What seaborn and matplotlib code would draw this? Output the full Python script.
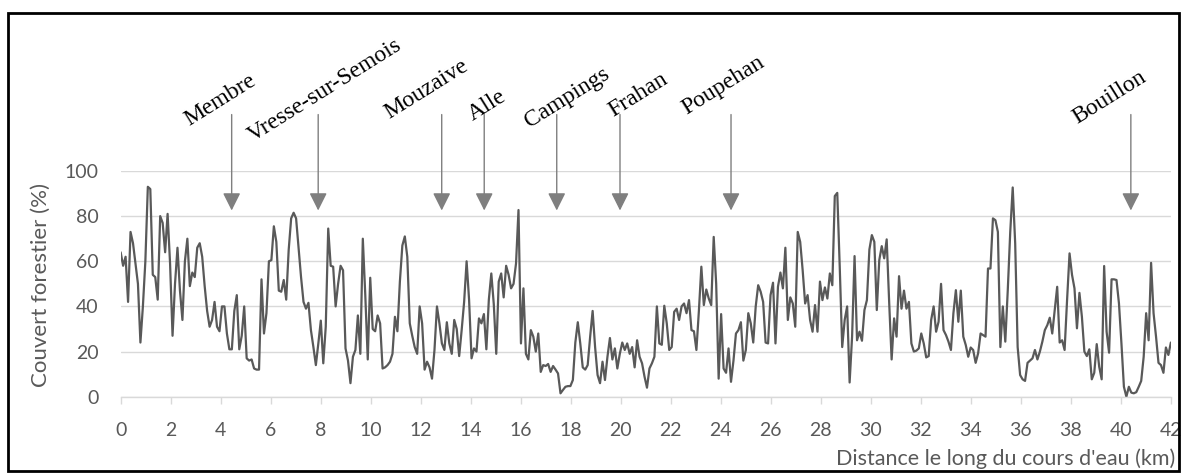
import numpy as np
import pandas as pd
import seaborn as sns
import matplotlib.pyplot as plt
from matplotlib.patches import Rectangle

# forest cover (%) read along the river, roughly every 0.1 km from 0 to 42 km
cover_0_5 = [64, 58, 62, 42, 73, 68, 59, 50, 24, 40, 60, 93, 92, 54, 53, 43, 80, 77, 64, 81,
             59, 27, 50, 66, 47, 34, 60, 70, 49, 55, 53, 66, 68, 62, 49, 38, 31, 34, 42, 31,
             29, 40, 40, 28, 21, 21, 38]
cover_5_10 = [45, 21, 27, 40, 17, 16, 16.5, 12.5, 12, 12, 52, 28, 37, 60, 60.5, 75.5, 68.6, 47, 46.5, 51.7,
              43, 65, 79, 81.5, 79, 66, 53, 42, 39, 41.6, 29.5, 22, 14, 23.6, 33.7, 14.8, 31, 74.5, 58, 57.6,
              40, 50, 58, 56, 21.4, 16, 6, 17.7, 20.7, 36, 19, 70, 45, 16.5]
cover_10_15 = [52.7, 30, 29, 36, 32.5, 12.5, 13, 14, 15.5, 19, 35.4, 29, 51, 67, 71, 62, 32.5, 27, 22, 19,
               40, 32.5, 12, 15.5, 13, 8, 20.7, 40, 32.5, 23.6, 20.7, 33, 23.6, 19, 34, 30, 18, 29.5, 42, 60,
               43, 17, 21.4, 20, 34.7, 32.5, 36.6, 21, 43, 54.6, 41, 19, 51]
cover_15_20 = [54.6, 44, 58, 54, 48, 50, 59, 82.7, 23.6, 48, 19, 16.5, 29.5, 26.6, 20, 28, 11, 14, 13.6, 14.5,
               11, 13.6, 12, 10.3, 1.5, 3, 4.4, 4.7, 4.7, 7.4, 24, 33, 23.6, 13, 12, 14, 26.6, 38, 22, 9.6,
               6, 15.5, 7.4, 17.7, 26, 16.5, 21.4, 12.5, 19, 24, 20.7, 23.6, 19, 22, 13]
cover_20_25 = [25, 17.7, 14.8, 8.9, 4, 12.5, 14.8, 17.7, 40, 23.6, 23, 40.3, 32.5, 20.7, 22, 37.6, 39, 34, 40, 41.3,
               37, 42.8, 29.5, 29, 20.7, 38, 57.6, 40.6, 47.5, 43.5, 40.6, 70.8, 50, 8, 36.6, 12.5, 10.6, 21.4, 6.6, 16,
               28, 29.5, 33, 16, 20.7, 37, 32.5, 24, 40, 49.4, 46.5, 42]
cover_25_30 = [24, 23.6, 45, 50.5, 23.6, 48.7, 55, 48, 66, 34, 44, 41.3, 31, 73, 68.6, 56, 41.3, 45, 34, 28.8,
               40.6, 28.8, 51, 42.8, 48.4, 43.5, 54.6, 49.4, 88.9, 90.3, 57.6, 22, 34, 40, 6.3, 26.6, 62.3, 25, 28.8, 24.8,
               38.4, 42.8, 65.2, 71.6, 68.6, 38.4, 60.5, 66.7, 61.3, 69.7, 42, 16.5]
cover_30_35 = [34.7, 26.6, 53.4, 39, 47, 39, 42, 23.6, 20, 20.4, 21.4, 28, 23.6, 17.4, 18, 34, 40, 28.8, 33.2, 50,
               29.5, 27.3, 24.4, 20.7, 37, 47.2, 33.2, 47, 26.6, 22.9, 17.7, 21.8, 20.7, 15, 19.2, 28, 27.3, 26.6, 56.8, 56.8,
               79, 78.2, 73, 22, 40, 24.4, 47.2, 73, 92.7, 68, 22, 9.6]
cover_35_42 = [7.7, 7, 15, 16, 17, 20.7, 16.5, 20, 24.4, 29.5, 31.7, 35, 28, 38.4, 48.7, 24, 25, 20.7, 42.8, 63.5,
               54, 48, 30.3, 46, 35.4, 20, 18, 21, 7.7, 10.6, 23.3, 13.3, 7.7, 57.9, 28.8, 19.5, 52, 52, 51.7, 41.3,
               23.6, 4.4, 0, 4.4, 1.8, 1.5, 2, 4.4, 7, 17.7, 37, 25, 59.3, 37, 26.6, 15, 14, 10.6, 21.8, 18.5, 24]

cover = (cover_0_5 + cover_5_10 + cover_10_15 + cover_15_20 + cover_20_25
         + cover_25_30 + cover_30_35 + cover_35_42)
distance = np.linspace(0, 42, len(cover))

# villages marked by arrows (km along the river)
places = ["Membre", "Vresse-sur-Semois", "Mouzaive", "Alle", "Campings",
          "Frahan", "Poupehan", "Bouillon"]
place_km = [4.44, 7.9, 12.84, 14.54, 17.44, 19.97, 24.41, 40.4]
# where each rotated label starts (km, value)
label_x = [2.75, 5.3, 10.75, 14.1, 16.35, 19.7, 22.65, 38.25]
label_y = [120, 113, 123, 122, 119, 124, 125, 121]

df = pd.DataFrame({"distance": distance, "cover": cover})

sns.set_theme(style="white")
plt.rcParams['font.family'] = ['Lato', 'DejaVu Sans']

fig = plt.figure(figsize=(11.84, 4.73), dpi=100)
ax = fig.add_axes([0.1019, 0.1613, 0.887, 0.4772])

sns.lineplot(data=df, x="distance", y="cover", ax=ax, color="#595959", linewidth=1.6)

ax.set_xlim(0, 42)
ax.set_ylim(0, 100)
ax.set_xticks(np.arange(0, 43, 2))
ax.set_yticks(np.arange(0, 101, 20))
ax.yaxis.grid(True, color="#d9d9d9", linewidth=1)
ax.set_axisbelow(True)
for s in ["top", "right", "left"]:
    ax.spines[s].set_visible(False)
ax.spines["bottom"].set_color("#d9d9d9")
ax.spines["bottom"].set_linewidth(1)
ax.tick_params(axis="x", colors="#595959", labelsize=14, length=5, width=1,
               direction="out", bottom=True, pad=13)
ax.tick_params(axis="x", color="#d9d9d9")
ax.tick_params(axis="y", colors="#595959", labelsize=14, length=0, pad=16)
ax.set_xlabel("")
ax.set_ylabel("")

for name, km, lx, ly in zip(places, place_km, label_x, label_y):
    ax.annotate("", xy=(km, 82.5), xytext=(km, 125), annotation_clip=False,
                arrowprops=dict(arrowstyle="-|>,head_length=1.08,head_width=0.54",
                                mutation_scale=10, color="#7f7f7f", lw=1,
                                shrinkA=0, shrinkB=0))
    ax.text(lx, ly, name, rotation=32, rotation_mode="anchor", ha="left",
            va="baseline", fontsize=17, family="Liberation Serif", color="black",
            clip_on=False)

fig.text(41 / 1184, 1 - 285 / 473, "Couvert forestier (%)", rotation=90,
         ha="center", va="center", fontsize=16, color="#595959")
fig.text(1175 / 1184, 1 - 459 / 473, "Distance le long du cours d'eau (km)",
         ha="right", va="center", fontsize=15.5, color="#595959")

fig.patches.append(Rectangle((8 / 1184, 2 / 473), 1171 / 1184, 458 / 473,
                             transform=fig.transFigure, fill=False,
                             edgecolor="black", linewidth=2))

fig.savefig("out.png", dpi=100)
